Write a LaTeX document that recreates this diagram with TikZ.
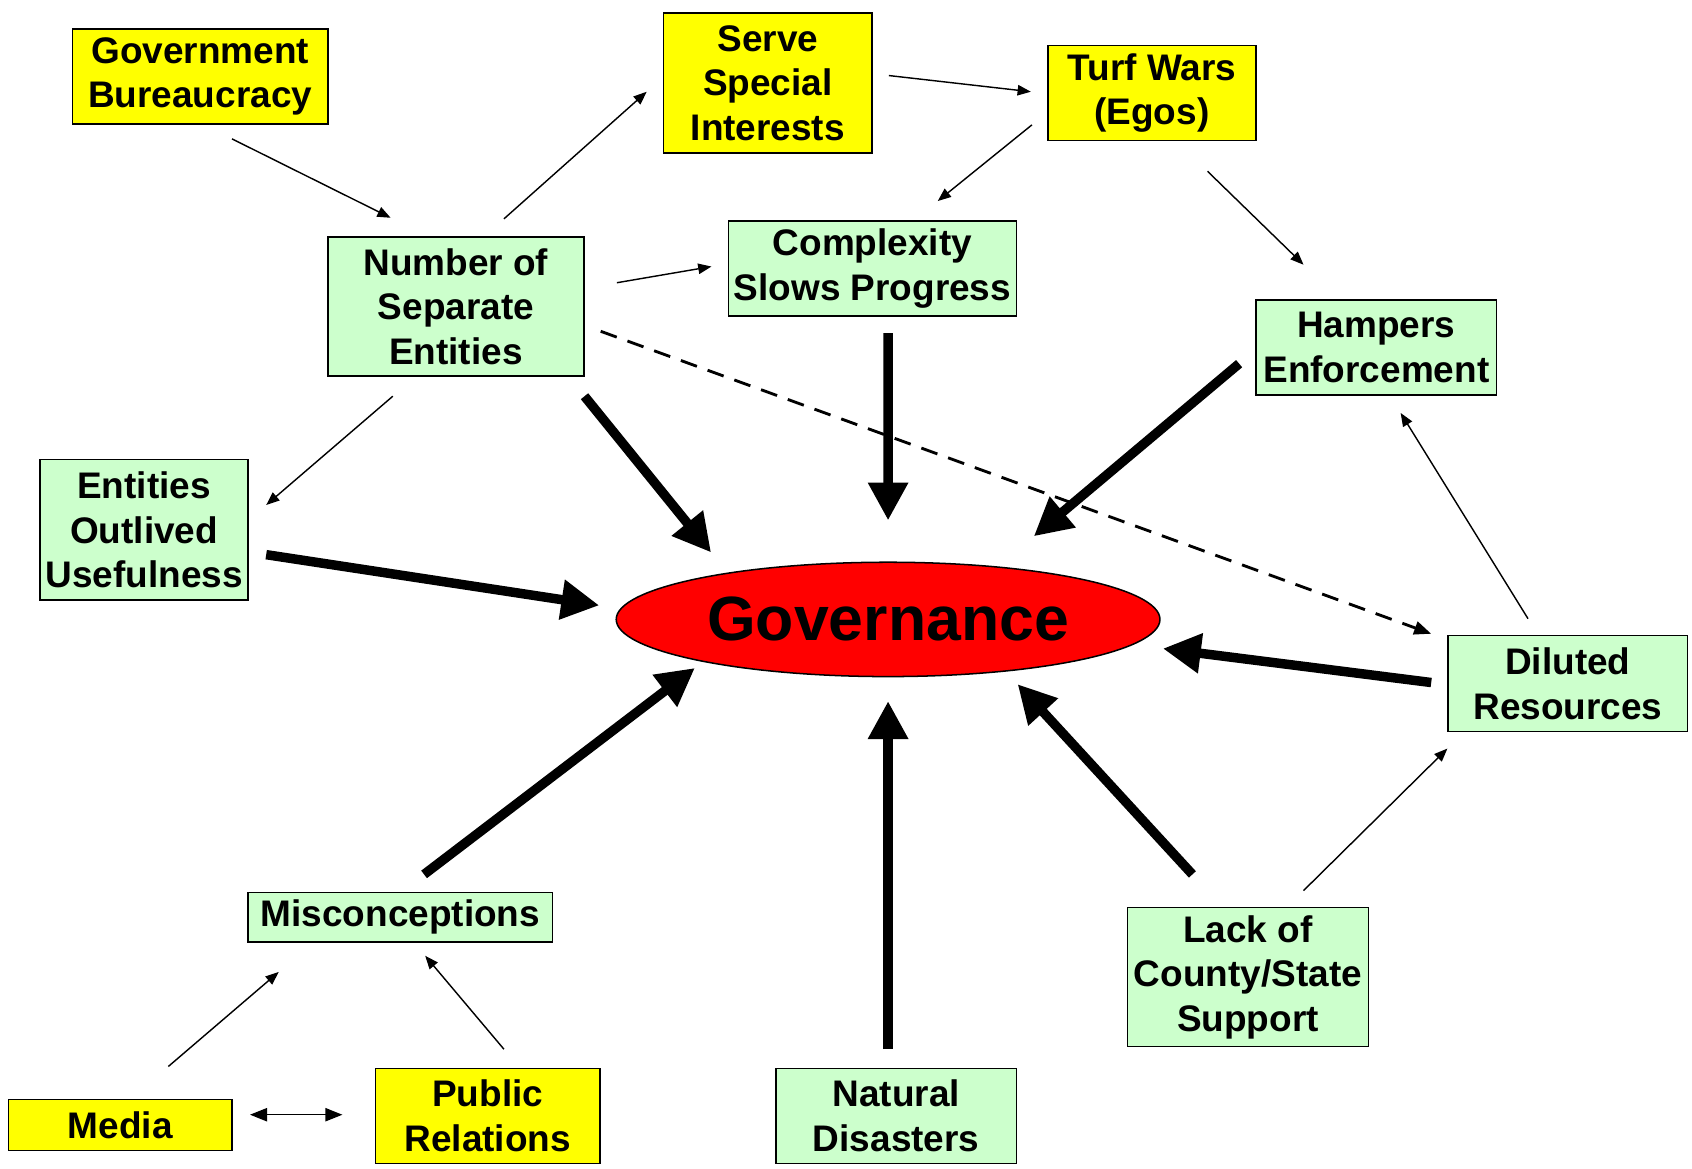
\documentclass[tikz,border=0pt]{standalone}
\usepackage{fontspec}
\setmainfont{Liberation Sans}
\usetikzlibrary{arrows.meta, shapes.geometric}

\definecolor{boxgreen}{HTML}{CCFFCC}
\definecolor{boxyellow}{HTML}{FFFF00}
\definecolor{govred}{HTML}{FF0000}

\begin{document}
\begin{tikzpicture}[
    x=0.02cm, y=-0.02cm, % one unit = one pixel of the layout, y down
    box/.style={draw, line width=0.8pt, align=center, inner sep=0pt,
        font=\fontsize{19.5}{23.5}\selectfont\bfseries},
    greenbox/.style={box, fill=boxgreen},
    yellowbox/.style={box, fill=boxyellow},
    weak/.style={-{Triangle[length=7pt, width=5.5pt]}, line width=0.75pt},
    strong/.style={-{Triangle[length=20pt, width=20pt]}, line width=5pt},
    maybe/.style={-{Triangle[length=9pt, width=7pt]}, line width=1.5pt, dash pattern=on 9pt off 6pt}
]
\useasboundingbox (0,0) rectangle (1568,1083);

% Top row
\node[yellowbox, minimum width=4.74cm, minimum height=1.76cm] (bur) at (185.5,71) {Government\\Bureaucracy};
\node[yellowbox, minimum width=3.86cm, minimum height=2.60cm] (serve) at (711.5,77) {Serve\\Special\\Interests};
\node[yellowbox, minimum width=3.86cm, minimum height=1.76cm] (turf) at (1067.5,86) {Turf Wars\\(Egos)};

% Middle
\node[greenbox, minimum width=4.74cm, minimum height=2.58cm] (num) at (422.5,284) {Number of\\Separate\\Entities};
\node[greenbox, minimum width=5.34cm, minimum height=1.76cm] (cplx) at (808.5,249) {Complexity\\Slows Progress};
\node[greenbox, minimum width=4.46cm, minimum height=1.76cm] (hamp) at (1275.5,322) {Hampers\\Enforcement};
\node[greenbox, minimum width=3.86cm, minimum height=2.60cm] (outl) at (133.5,491) {Entities\\Outlived\\Usefulness};
\node[ellipse, draw, line width=0.8pt, fill=govred, inner sep=0pt,
    minimum width=10.08cm, minimum height=2.12cm,
    font=\fontsize{33}{38}\selectfont\bfseries] (gvn) at (823,574) {Governance};
\node[greenbox, minimum width=4.44cm, minimum height=1.78cm] (dil) at (1453,633.5) {Diluted\\Resources};

% Bottom
\node[greenbox, minimum width=5.64cm, minimum height=0.92cm] (misc) at (371,850) {Misconceptions};
\node[greenbox, minimum width=4.46cm, minimum height=2.58cm] (lack) at (1156.5,905.5) {Lack of\\County/State\\Support};
\node[yellowbox, minimum width=4.14cm, minimum height=0.94cm] (media) at (111.5,1042.5) {Media};
\node[yellowbox, minimum width=4.16cm, minimum height=1.76cm] (pr) at (452,1034) {Public\\Relations};
\node[greenbox, minimum width=4.46cm, minimum height=1.76cm] (nat) at (830.5,1034) {Natural\\Disasters};

% Thin links
\draw[weak] ([shift={(29.5,13)}]bur.south) -- ([shift={(-60.5,-17)}]num.north);
\draw[weak] ([shift={(44.5,-16)}]num.north) -- ([shift={(-15,8)}]serve.west);
\draw[weak] ([shift={(15,-7)}]serve.east) -- ([shift={(-15,-1)}]turf.west);
\draw[weak] ([shift={(-14,-15)}]turf.south west) -- ([shift={(60.5,-18)}]cplx.north);
\draw[weak] ([shift={(51.5,28)}]turf.south) -- ([shift={(-67.5,-32)}]hamp.north);
\draw[weak] ([shift={(30,-22)}]num.east) -- ([shift={(-15,-2)}]cplx.west);
\draw[weak] ([shift={(-58.5,18)}]num.south) -- ([shift={(16,-23)}]outl.east);
\draw[weak] ([shift={(-37,-15)}]dil.north) -- ([shift={(22.5,16)}]hamp.south);
\draw[weak] ([shift={(51.5,-15)}]lack.north) -- ([shift={(0,15)}]dil.south west);
\draw[weak] ([shift={(44.5,-30)}]media.north) -- ([shift={(29,27)}]misc.south west);
\draw[weak] ([shift={(15,-17)}]pr.north) -- ([shift={(23,12)}]misc.south);
\draw[weak, {Triangle[length=9pt, width=7pt]}-{Triangle[length=9pt, width=7pt]}] ([shift={(16,-9.5)}]media.east) -- ([shift={(-30,-1)}]pr.west);

% Dashed link
\draw[maybe] ([shift={(15,23)}]num.east) -- ([shift={(-15,-1)}]dil.north west);

% Thick arrows into Governance
\draw[strong] ([shift={(0,18)}]num.south east) -- ([shift={(-164,-62)}]gvn.center);
\draw[strong] ([shift={(14.5,15)}]cplx.south) -- ([shift={(0,-38)}]gvn.north);
\draw[strong] ([shift={(-15,15)}]hamp.west) -- ([shift={(135,-77)}]gvn.center);
\draw[strong] ([shift={(16,23)}]outl.east) -- ([shift={(-15,-13)}]gvn.west);
\draw[strong] ([shift={(-15,-1)}]dil.west) -- ([shift={(2,27)}]gvn.east);
\draw[strong] ([shift={(-51.5,-30)}]lack.north) -- ([shift={(120,60)}]gvn.center);
\draw[strong] ([shift={(-7.5,-17)}]nat.north) -- ([shift={(0,22)}]gvn.south);
\draw[strong] ([shift={(22,-16)}]misc.north) -- ([shift={(-179,45)}]gvn.center);

\end{tikzpicture}
\end{document}
